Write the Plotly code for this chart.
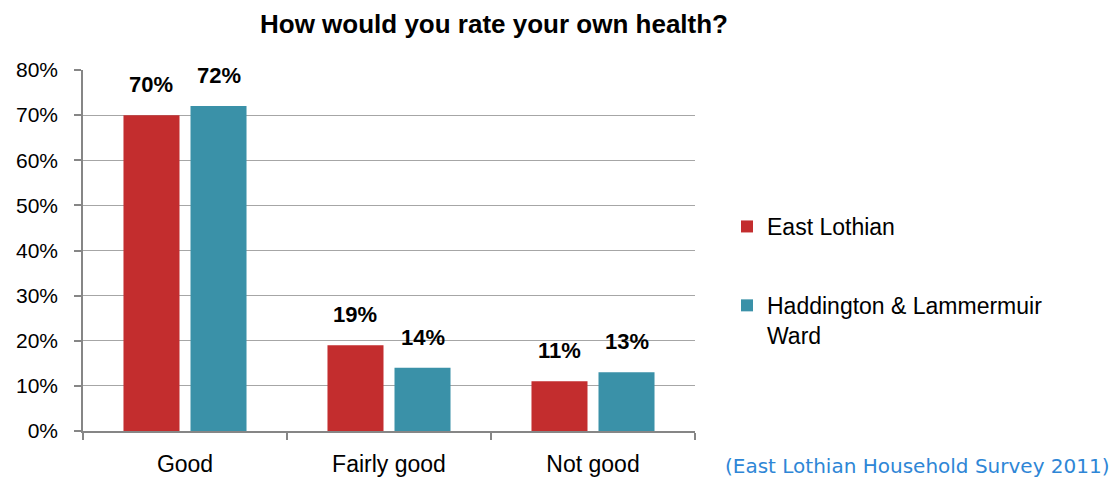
import plotly.graph_objects as go

categories = ["Good", "Fairly good", "Not good"]
east_lothian = [0.70, 0.19, 0.11]
haddington = [0.72, 0.14, 0.13]
series_names = ["East Lothian", "Haddington & Lammermuir<br>Ward"]
title_text = "How would you rate your own health?"
source_text = "(East Lothian Household Survey 2011)"

FONT = "Liberation Sans, Arial, sans-serif"
RED = "#C32D2E"
TEAL = "#3A91A8"

fig = go.Figure()
annotations = []
for name, vals, col, grp, shift in [(series_names[0], east_lothian, RED, "a", -34),
                                    (series_names[1], haddington, TEAL, "b", 34)]:
    fig.add_trace(go.Bar(
        x=categories, y=vals, name=name, marker_color=col,
        marker_line_width=0, legendgroup=grp,
    ))
    for c, v in zip(categories, vals):
        annotations.append(dict(
            x=c, y=v, xref="x", yref="y", text="<b>%d%%</b>" % round(v * 100),
            showarrow=False, xanchor="center", yanchor="bottom",
            xshift=shift, yshift=16,
            font=dict(family=FONT, size=22, color="black")))

annotations.append(dict(text=source_text, xref="paper", yref="paper",
                        x=1.0 + (723 - 695) / 612, y=-(466 - 431) / 361,
                        xanchor="left", yanchor="middle", showarrow=False,
                        font=dict(family="DejaVu Sans, sans-serif", size=20,
                                  color="#2E86D6")))

fig.update_layout(
    width=1117, height=478,
    margin=dict(l=83, r=422, t=70, b=47, autoexpand=False),
    paper_bgcolor="white", plot_bgcolor="white",
    barmode="group", bargap=0.343, bargroupgap=0.164,
    font=dict(family=FONT, size=21, color="black"),
    title=dict(text="<b>" + title_text + "</b>", x=494 / 1117,
               xanchor="center", xref="container", yref="container",
               y=1 - 24 / 478, yanchor="middle",
               font=dict(family=FONT, size=26, color="black")),
    showlegend=True,
    legend=dict(x=1.0 + (727 - 695) / 612, xanchor="left",
                y=1 - (205 - 70) / 361, yanchor="top",
                font=dict(family=FONT, size=23, color="black"),
                tracegroupgap=46, traceorder="grouped", valign="top",
                itemsizing="constant", bgcolor="rgba(0,0,0,0)"),
    xaxis=dict(showline=True, linecolor="#868686", linewidth=1.5,
               ticks="outside", tickson="boundaries", ticklen=7,
               tickcolor="#868686", tickwidth=1.5, ticklabelstandoff=12,
               automargin=False,
               tickfont=dict(family=FONT, size=23, color="black")),
    yaxis=dict(range=[0, 0.8], dtick=0.1, tickformat=".0%",
               showgrid=True, gridcolor="#A6A6A6", gridwidth=1.2,
               showline=True, linecolor="#868686", linewidth=1.5,
               ticks="outside", ticklen=7, tickcolor="#868686",
               tickwidth=1.5, zeroline=False, ticklabelstandoff=12,
               automargin=False,
               tickfont=dict(family=FONT, size=21, color="black")),
    annotations=annotations,
)

fig.write_html("out.html", config={"displayModeBar": False},
               post_script="document.body.style.margin='0';")
